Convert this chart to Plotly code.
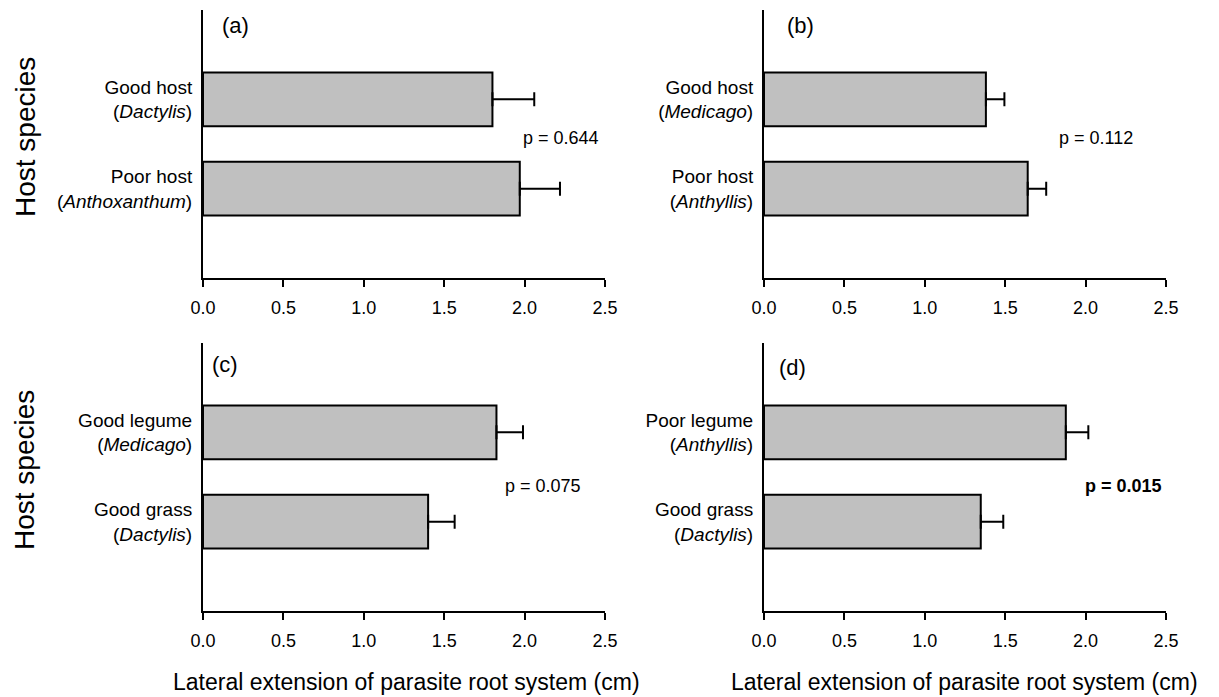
import plotly.graph_objects as go

# ---- data ----
labels_a = ["Good host<br>(<i>Dactylis</i>)", "Poor host<br>(<i>Anthoxanthum</i>)"]
values_a = [1.80, 1.97]
se_a = [0.26, 0.25]

labels_b = ["Good host<br>(<i>Medicago</i>)", "Poor host<br>(<i>Anthyllis</i>)"]
values_b = [1.38, 1.64]
se_b = [0.115, 0.115]

labels_c = ["Good legume<br>(<i>Medicago</i>)", "Good grass<br>(<i>Dactylis</i>)"]
values_c = [1.825, 1.40]
se_c = [0.165, 0.165]

labels_d = ["Poor legume<br>(<i>Anthyllis</i>)", "Good grass<br>(<i>Dactylis</i>)"]
values_d = [1.877, 1.348]
se_d = [0.14, 0.14]

panel_tags = ["(a)", "(b)", "(c)", "(d)"]
p_texts = ["p = 0.644", "p = 0.112", "p = 0.075", "<b>p = 0.015</b>"]
x_ticks = [0.0, 0.5, 1.0, 1.5, 2.0, 2.5]
x_title = "Lateral extension of parasite root system (cm)"
y_title = "Host species"

FONT = "Liberation Sans, Arial, sans-serif"
OFF = 8  # page body margin
W, H = 1219 - OFF, 697 - OFF

panels = [
    (labels_a, values_a, se_a),
    (labels_b, values_b, se_b),
    (labels_c, values_c, se_c),
    (labels_d, values_d, se_d),
]

# pixel geometry of the plotting areas (in window pixels)
xdom_px = [(203, 605), (764, 1166)]
ydom_px = [(10, 278), (343, 611)]


def px_x(v):
    return (v - OFF) / W


def px_y(v):
    return 1 - (v - OFF) / H


fig = go.Figure()

tag_pos = [(0.042, 0.944), (0.053, 0.944), (0.017, 0.918), (0.033, 0.907)]
p_pos = [(0.89, 0.522), (0.825, 0.522), (0.845, 0.466), (0.895, 0.466)]

for i, (labs, vals, ses) in enumerate(panels):
    row, col = divmod(i, 2)
    n = i + 1
    xa = "x" if n == 1 else f"x{n}"
    ya = "y" if n == 1 else f"y{n}"
    pos = list(range(len(vals)))
    fig.add_trace(go.Bar(
        x=vals, y=pos, orientation="h", width=0.6,
        marker=dict(color="#c0c0c0", line=dict(color="black", width=2)),
        error_x=dict(type="data", symmetric=False, array=ses,
                     arrayminus=[0] * len(ses), color="black",
                     thickness=2, width=7),
        xaxis=xa, yaxis=ya, showlegend=False,
    ))
    x0, x1 = xdom_px[col]
    y0, y1 = ydom_px[row]
    xkey = "xaxis" if n == 1 else f"xaxis{n}"
    ykey = "yaxis" if n == 1 else f"yaxis{n}"
    fig.update_layout(**{
        xkey: dict(domain=[px_x(x0), px_x(x1)], anchor=ya, range=[0, 2.5],
                   tickvals=x_ticks, tickformat=".1f", showgrid=False,
                   zeroline=False, showline=True, linecolor="black",
                   linewidth=2, ticks="outside", ticklen=7, tickwidth=2,
                   tickcolor="black", ticklabelstandoff=5, automargin=False,
                   tickfont=dict(family=FONT, size=18, color="black")),
        ykey: dict(domain=[px_y(y1), px_y(y0)], anchor=xa,
                   range=[2, -1], tickvals=pos, ticktext=labs,
                   showgrid=False, zeroline=False, showline=True,
                   linecolor="black", linewidth=2, ticks="",
                   ticklabelstandoff=5, automargin=False,
                   tickfont=dict(family=FONT, size=19, color="black")),
    })
    xd = "x domain" if n == 1 else f"x{n} domain"
    yd = "y domain" if n == 1 else f"y{n} domain"
    tx, ty = tag_pos[i]
    fig.add_annotation(text=panel_tags[i], xref=xd, yref=yd, x=tx, y=ty,
                       xanchor="left", yanchor="middle", showarrow=False,
                       font=dict(family=FONT, size=22, color="black"))
    px_, py_ = p_pos[i]
    fig.add_annotation(text=p_texts[i], xref=xd, yref=yd, x=px_, y=py_,
                       xanchor="center", yanchor="middle", showarrow=False,
                       font=dict(family=FONT, size=18, color="black"))

# Host species titles
for cy in [137, 470]:
    fig.add_annotation(text=y_title, xref="paper", yref="paper",
                       x=px_x(25), y=px_y(cy), textangle=-90,
                       xanchor="center", yanchor="middle", showarrow=False,
                       font=dict(family=FONT, size=28, color="black"))
# x-axis titles
for cx in [406, 965]:
    fig.add_annotation(text=x_title, xref="paper", yref="paper",
                       x=px_x(cx), y=px_y(682),
                       xanchor="center", yanchor="middle", showarrow=False,
                       font=dict(family=FONT, size=23, color="black"))

fig.update_layout(width=W, height=H,
                  margin=dict(l=0, r=0, t=0, b=0, autoexpand=False),
                  paper_bgcolor="white", plot_bgcolor="white",
                  bargap=0.4)

fig.write_html("out.html")
